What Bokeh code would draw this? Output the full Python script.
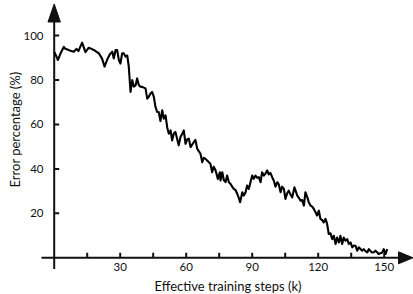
import math
from bokeh.plotting import figure
from bokeh.models import Range1d
from bokeh.core.properties import value
from bokeh.embed import file_html
from bokeh.resources import INLINE

# ---------------- data ----------------
steps = [0.1, 0.8, 1.7, 2.9, 4.4, 5.1, 6.6, 7.4, 8.9, 10.1,
         11.0, 12.7, 14.2, 15.7, 16.5, 18.0, 18.8, 20.3, 21.8, 22.9,
         24.1, 25.3, 26.4, 27.1, 27.9, 28.6, 29.4, 30.1, 30.9, 31.6,
         32.4, 33.2, 33.9, 34.7, 35.5, 36.2, 37.0, 37.7, 38.5, 39.2,
         40.0, 41.5, 42.3, 43.0, 43.8, 44.5, 45.3, 46.0, 46.8, 47.5,
         48.3, 49.1, 49.8, 50.6, 51.4, 52.1, 52.9, 53.6, 54.4, 55.1,
         56.6, 57.4, 58.2, 58.9, 59.7, 60.5, 61.2, 62.0, 63.5, 64.2,
         65.0, 65.7, 66.5, 67.3, 68.0, 68.8, 69.5, 70.3, 71.0, 71.8,
         72.5, 73.3, 74.4, 74.8, 75.3, 75.6, 76.4, 77.1, 77.9, 78.6,
         79.4, 80.1, 80.9, 81.6, 82.4, 83.2, 83.9, 84.5, 85.5, 86.2,
         87.0, 87.7, 88.5, 89.2, 90.0, 90.7, 91.5, 92.3, 93.0, 93.8,
         94.5, 95.3, 96.0, 96.8, 97.5, 98.3, 99.4, 99.8, 100.6, 101.4,
         102.1, 102.9, 103.6, 104.4, 105.1, 105.9, 106.6, 107.4, 108.2, 109.2,
         110.5, 111.2, 112.0, 112.7, 113.5, 114.2, 115.3, 115.7, 116.5, 117.3,
         118.0, 118.8, 119.5, 120.3, 121.0, 121.8, 122.5, 123.3, 124.0, 124.8,
         125.6, 126.4, 127.1, 127.9, 128.6, 129.4, 130.1, 130.9, 131.6, 132.4,
         133.2, 133.9, 134.7, 135.5, 136.2, 137.0, 137.7, 138.5, 139.2, 140.0,
         140.7, 141.5, 142.3, 143.0, 143.8, 144.5, 145.3, 146.0, 146.8, 147.5,
         148.3, 149.1, 149.8, 150.6, 151.4]

error = [92.5, 91, 89, 92, 94.9, 94, 93.5, 93.1, 92.7, 94,
         93, 96.8, 92.5, 94.5, 94.2, 93.5, 93, 92, 89.5, 86,
         89.2, 91.6, 92.7, 89.7, 93.5, 93.5, 88.9, 87.4, 92, 92,
         90.5, 91, 86, 74.6, 79.9, 77, 77.6, 80.7, 77.6, 77,
         76.9, 76.2, 71.6, 72.4, 73.9, 74.6, 72.4, 68, 65.6, 65.6,
         61.5, 66.4, 62.6, 64.1, 58.5, 55.8, 57.3, 52.8, 56, 56.6,
         50.6, 54.3, 55.8, 57.3, 51.3, 53.3, 53.6, 49.8, 52.1, 53,
         49.1, 48, 46.8, 43, 45, 44.5, 43.8, 43, 42.3, 38.5,
         41, 39.5, 35.5, 37, 38.5, 34.8, 38.5, 35, 34, 37,
         34, 33.3, 32, 31, 30.5, 28.8, 27, 25, 29.5, 28,
         29.5, 32.5, 31, 34, 37, 35.5, 37, 36, 36.3, 34,
         38.5, 37, 37.8, 39.3, 37.5, 38.2, 35.5, 34.8, 32, 34,
         33, 29.5, 32, 31, 26.5, 29, 30.2, 28.5, 27.2, 31.7,
         28, 27, 25.7, 26, 23.5, 29.5, 26.5, 25, 23.5, 23,
         22, 20.5, 19, 21.2, 17.5, 17, 15.9, 17.5, 15.5, 10.7,
         11, 8.4, 9.9, 6.2, 9.1, 6.9, 9.9, 6.2, 9.1, 7.7,
         8.4, 6.2, 6.9, 4.7, 5.5, 5.4, 3.2, 4.7, 4, 3.2,
         3.9, 3, 2.4, 3.9, 3, 2.4, 2.5, 3.2, 2.5, 1.7,
         2, 2.4, 3.9, 1.7, 3.9]

x_ticks = [15, 30, 45, 60, 75, 90, 105, 120, 135, 150]
x_label_ticks = [30, 60, 90, 120, 150]
x_tick_labels = ["30", "60", "90", "120", "150"]
y_ticks = [20, 40, 60, 80, 100]
y_tick_labels = ["20", "40", "60", "80", "100"]
x_title = "Effective training steps (k)"
y_title = "Error percentage (%)"

# ---------------- layout (pixel geometry of the page) ----------------
W, H = 413, 294
OX, OY = 53.7, 257.3          # pixel position of the origin
PX, PY = 2.2, 2.223           # pixels per data unit
X0, X1 = -OX / PX, (W - OX) / PX
Y0, Y1 = (OY - H) / PY, OY / PY
kx = 1 / PX
ky = 1 / PY

def dx(px):
    return (px - OX) / PX

def dy(py):
    return (OY - py) / PY

FONT = value("Lato")
INK = "#111111"

p = figure(width=W, height=H, x_range=Range1d(X0, X1), y_range=Range1d(Y0, Y1),
           output_backend="svg", toolbar_location=None, min_border=0,
           x_axis_location=None, y_axis_location=None)
p.grid.visible = False
p.outline_line_color = None
p.background_fill_color = "white"
p.border_fill_color = "white"

# axis lines with arrow heads
x_start, x_base, x_tip = dx(41), dx(398), dx(412.5)
y_start, y_base, y_tip = dy(268.5), dy(21.5), dy(3.5)
p.line([x_start, x_base], [0, 0], line_color=INK, line_width=2)
p.line([0, 0], [y_start, y_base], line_color=INK, line_width=2)
p.patches([[x_base, x_tip, x_base], [-6.2 * kx, 0, 6.2 * kx]],
          [[6 * ky, 0, -6 * ky], [y_base, y_tip, y_base]],
          fill_color=INK, line_color=INK, line_width=1)

# ticks (inward)
tick_len = 5
p.segment(x0=x_ticks, y0=[0] * len(x_ticks), x1=x_ticks,
          y1=[tick_len * ky] * len(x_ticks), line_color=INK, line_width=2)
p.segment(x0=[0] * len(y_ticks), y0=y_ticks, x1=[tick_len * kx] * len(y_ticks),
          y1=y_ticks, line_color=INK, line_width=2)

# tick labels
p.text(x=x_label_ticks, y=[dy(262)] * len(x_label_ticks), text=x_tick_labels,
       text_align="center", text_baseline="top", text_font=FONT,
       text_font_size="11.5px", text_color=INK)
p.text(x=[dx(43)] * len(y_ticks), y=y_ticks, text=y_tick_labels,
       text_align="right", text_baseline="middle", text_font=FONT,
       text_font_size="11.5px", text_color=INK)

# axis titles
p.text(x=[dx(227.5)], y=[dy(285.5)], text=[x_title],
       text_align="center", text_baseline="middle", text_font=FONT,
       text_font_size="13px", text_color=INK)
p.text(x=[dx(14.5)], y=[dy(129)], text=[y_title], angle=math.pi / 2,
       text_align="center", text_baseline="middle", text_font=FONT,
       text_font_size="13px", text_color=INK)

# data line
p.line(steps, error, line_color="black", line_width=2.1, line_join="round")

open("out.html", "w").write(file_html(p, INLINE))
